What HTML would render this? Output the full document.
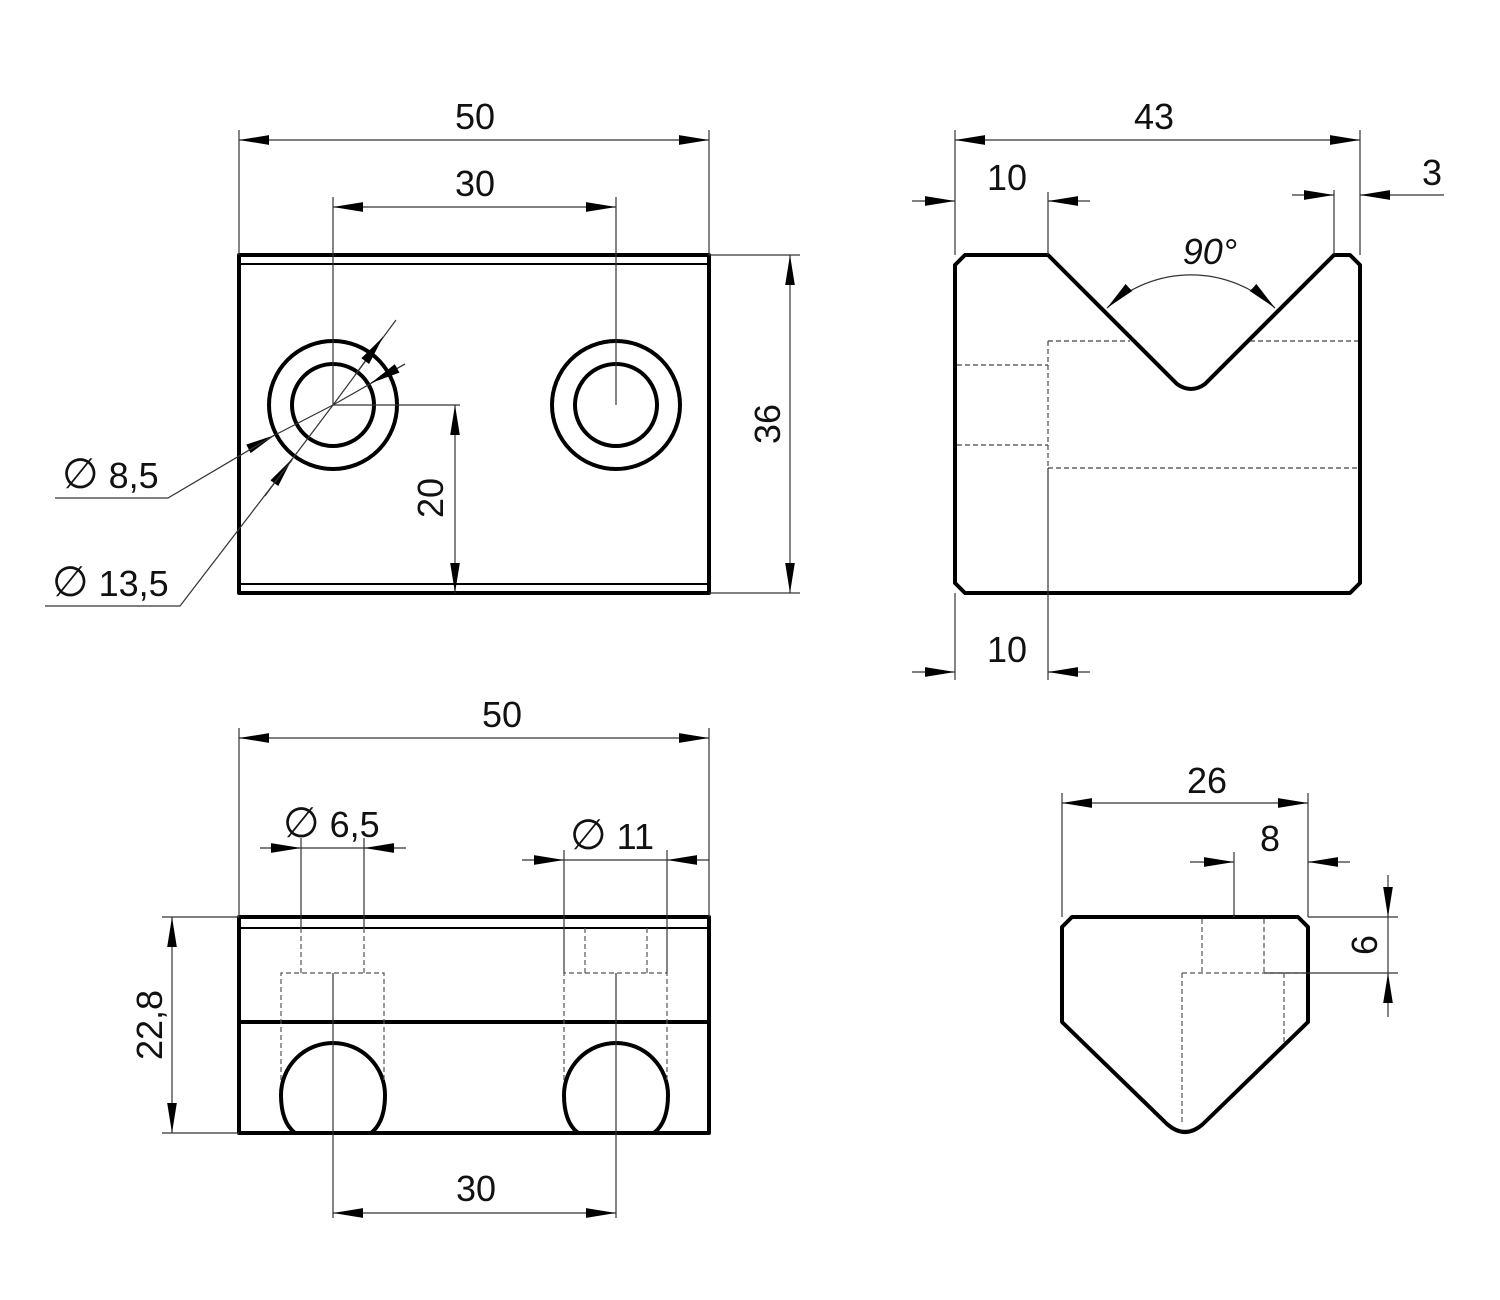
<!DOCTYPE html>
<html><head><meta charset="utf-8"><style>
html,body{margin:0;padding:0;background:#fff}
svg{display:block}
text{font-family:"Liberation Sans",sans-serif;font-size:36px;fill:#111}
.d{font-size:42px;font-weight:normal}
</style></head><body>
<svg width="1500" height="1300" viewBox="0 0 1500 1300" xmlns="http://www.w3.org/2000/svg">
<defs>
<marker id="a" markerUnits="userSpaceOnUse" markerWidth="30" markerHeight="12" refX="28" refY="4.5" orient="auto-start-reverse" viewBox="0 0 28 9">
<path d="M0,0 L28,4.5 L0,9 z" fill="#000"/></marker>
</defs>
<g fill="none" stroke="#000">
<g stroke-width="4" stroke-linejoin="round">
<rect x="239" y="255" width="470" height="338"/>
<circle cx="333" cy="405" r="41"/><circle cx="333" cy="405" r="64"/>
<circle cx="616" cy="405" r="41"/><circle cx="616" cy="405" r="64"/>
</g>
<g stroke-width="2"><line x1="239" y1="264" x2="709" y2="264"/><line x1="239" y1="584" x2="709" y2="584"/></g>
<g stroke-width="1.2" stroke="#333">
<line x1="239" y1="130" x2="239" y2="255"/><line x1="709" y1="130" x2="709" y2="255"/>
<line x1="239" y1="140" x2="709" y2="140" marker-start="url(#a)" marker-end="url(#a)"/>
<line x1="333" y1="197" x2="333" y2="405"/><line x1="616" y1="197" x2="616" y2="405"/>
<line x1="333" y1="207" x2="616" y2="207" marker-start="url(#a)" marker-end="url(#a)"/>
<line x1="709" y1="255" x2="800" y2="255"/><line x1="709" y1="593" x2="800" y2="593"/>
<line x1="790" y1="255" x2="790" y2="593" marker-start="url(#a)" marker-end="url(#a)"/>
<line x1="333" y1="405" x2="460" y2="405"/>
<line x1="455" y1="405" x2="455" y2="593" marker-start="url(#a)" marker-end="url(#a)"/>
<line x1="405" y1="364" x2="333" y2="405"/>
<line x1="333" y1="405" x2="273" y2="436"/>
<line x1="405" y1="364" x2="371" y2="383" marker-end="url(#a)"/>
<line x1="250" y1="448" x2="275" y2="435" marker-end="url(#a)"/>
<polyline points="273,436 168,498 55,498"/>
<line x1="396" y1="320" x2="333" y2="405"/>
<line x1="333" y1="405" x2="287" y2="466"/>
<line x1="355" y1="375" x2="383" y2="337" marker-end="url(#a)"/>
<line x1="265" y1="496" x2="292" y2="459" marker-end="url(#a)"/>
<polyline points="292,460 180,606 45,606"/>
</g>
<path d="M955,265 L965,255 L1048,255 L1177,384 Q1191,394 1205,384 L1334,255 L1350,255 L1360,265 L1360,583 L1350,593 L965,593 L955,583 Z" stroke-width="4" stroke-linejoin="round"/>
<g stroke-width="1.2" stroke-dasharray="5,3" stroke="#444">
<line x1="957" y1="365" x2="1048" y2="365"/><line x1="957" y1="445" x2="1048" y2="445"/>
<line x1="1048" y1="341" x2="1048" y2="468"/>
<line x1="1048" y1="341" x2="1130" y2="341"/><line x1="1250" y1="341" x2="1358" y2="341"/>
<line x1="1048" y1="468" x2="1358" y2="468"/>
</g>
<g stroke-width="1.2" stroke="#333">
<line x1="955" y1="130" x2="955" y2="255"/><line x1="1360" y1="130" x2="1360" y2="255"/>
<line x1="955" y1="140" x2="1360" y2="140" marker-start="url(#a)" marker-end="url(#a)"/>
<line x1="1048" y1="192" x2="1048" y2="255"/>
<line x1="912" y1="201" x2="955" y2="201" marker-end="url(#a)"/>
<line x1="1090" y1="201" x2="1048" y2="201" marker-end="url(#a)"/>
<line x1="1334" y1="190" x2="1334" y2="255"/>
<line x1="1292" y1="195" x2="1334" y2="195" marker-end="url(#a)"/>
<line x1="1444" y1="195" x2="1360" y2="195" marker-end="url(#a)"/>
<path d="M1107,308 A123,123 0 0 1 1275,308" marker-start="url(#a)" marker-end="url(#a)"/>
<line x1="955" y1="593" x2="955" y2="680"/><line x1="1048" y1="468" x2="1048" y2="680"/>
<line x1="912" y1="672" x2="955" y2="672" marker-end="url(#a)"/>
<line x1="1090" y1="672" x2="1048" y2="672" marker-end="url(#a)"/>
</g>
<g stroke-width="4" stroke-linejoin="round">
<rect x="239" y="917" width="470" height="216"/>
<line x1="239" y1="1022" x2="709" y2="1022"/>
<path d="M295,1133 Q281,1122 281,1095 A52,52 0 0 1 385,1095 Q385,1122 371,1133"/>
<path d="M578,1133 Q564,1122 564,1095 A52,52 0 0 1 668,1095 Q668,1122 654,1133"/>
</g>
<line x1="239" y1="928" x2="709" y2="928" stroke-width="2"/>
<g stroke-width="1.2" stroke-dasharray="5,3" stroke="#555">
<line x1="301" y1="928" x2="301" y2="973"/><line x1="364" y1="928" x2="364" y2="973"/>
<polyline points="281,1080 281,973 384,973 384,1080"/>
<line x1="585" y1="928" x2="585" y2="973"/><line x1="647" y1="928" x2="647" y2="973"/>
<polyline points="564,1080 564,973 667,973 667,1080"/>
</g>
<g stroke-width="1.2" stroke="#333">
<line x1="239" y1="728" x2="239" y2="917"/><line x1="709" y1="728" x2="709" y2="917"/>
<line x1="239" y1="738" x2="709" y2="738" marker-start="url(#a)" marker-end="url(#a)"/>
<line x1="301" y1="838" x2="301" y2="928"/><line x1="364" y1="838" x2="364" y2="928"/>
<line x1="260" y1="848" x2="301" y2="848" marker-end="url(#a)"/>
<line x1="406" y1="848" x2="364" y2="848" marker-end="url(#a)"/>
<line x1="301" y1="848" x2="364" y2="848"/>
<line x1="564" y1="850" x2="564" y2="973"/><line x1="667" y1="850" x2="667" y2="973"/>
<line x1="522" y1="860" x2="564" y2="860" marker-end="url(#a)"/>
<line x1="709" y1="860" x2="667" y2="860" marker-end="url(#a)"/>
<line x1="564" y1="860" x2="667" y2="860"/>
<line x1="162" y1="917" x2="239" y2="917"/><line x1="162" y1="1133" x2="239" y2="1133"/>
<line x1="172" y1="917" x2="172" y2="1133" marker-start="url(#a)" marker-end="url(#a)"/>
<line x1="333" y1="973" x2="333" y2="1218"/><line x1="616" y1="973" x2="616" y2="1218"/>
<line x1="333" y1="1213" x2="616" y2="1213" marker-start="url(#a)" marker-end="url(#a)"/>
</g>
<path d="M1062,927 L1072,917 L1298,917 L1308,927 L1308,1022 L1203,1124 Q1185,1140 1167,1124 L1062,1022 Z" stroke-width="4" stroke-linejoin="round"/>
<g stroke-width="1.2" stroke-dasharray="5,3" stroke="#555">
<line x1="1202" y1="919" x2="1202" y2="973"/><line x1="1264" y1="919" x2="1264" y2="973"/>
<line x1="1182" y1="973" x2="1306" y2="973"/>
<line x1="1182" y1="973" x2="1182" y2="1125"/>
<line x1="1284" y1="973" x2="1284" y2="1042"/>
</g>
<g stroke-width="1.2" stroke="#333">
<line x1="1062" y1="793" x2="1062" y2="917"/><line x1="1308" y1="793" x2="1308" y2="917"/>
<line x1="1062" y1="803" x2="1308" y2="803" marker-start="url(#a)" marker-end="url(#a)"/>
<line x1="1234" y1="852" x2="1234" y2="917"/>
<line x1="1190" y1="862" x2="1234" y2="862" marker-end="url(#a)"/>
<line x1="1350" y1="862" x2="1308" y2="862" marker-end="url(#a)"/>
<line x1="1308" y1="917" x2="1398" y2="917"/><line x1="1264" y1="973" x2="1398" y2="973"/>
<line x1="1388" y1="875" x2="1388" y2="917" marker-end="url(#a)"/>
<line x1="1388" y1="1017" x2="1388" y2="973" marker-end="url(#a)"/>
<line x1="1388" y1="917" x2="1388" y2="973"/>
</g>
</g>
<g>
<text x="475" y="129" text-anchor="middle">50</text>
<text x="475" y="196" text-anchor="middle">30</text>
<text x="780" y="424" text-anchor="middle" transform="rotate(-90 780 424)">36</text>
<text x="443" y="498" text-anchor="middle" transform="rotate(-90 443 498)">20</text>
<text x="62" y="488"><tspan class="d">∅</tspan> 8,5</text>
<text x="52" y="596"><tspan class="d">∅</tspan> 13,5</text>
<text x="1154" y="129" text-anchor="middle">43</text>
<text x="1007" y="190" text-anchor="middle">10</text>
<text x="1432" y="185" text-anchor="middle">3</text>
<text x="1210" y="264" text-anchor="middle" font-style="italic">90°</text>
<text x="1007" y="662" text-anchor="middle">10</text>
<text x="502" y="727" text-anchor="middle">50</text>
<text x="283" y="837"><tspan class="d">∅</tspan> 6,5</text>
<text x="570" y="849"><tspan class="d">∅</tspan> 11</text>
<text x="162" y="1025" text-anchor="middle" transform="rotate(-90 162 1025)">22,8</text>
<text x="476" y="1201" text-anchor="middle">30</text>
<text x="1207" y="793" text-anchor="middle">26</text>
<text x="1270" y="851" text-anchor="middle">8</text>
<text x="1377" y="945" text-anchor="middle" transform="rotate(-90 1377 945)">6</text>
</g>
</svg>
</body></html>
